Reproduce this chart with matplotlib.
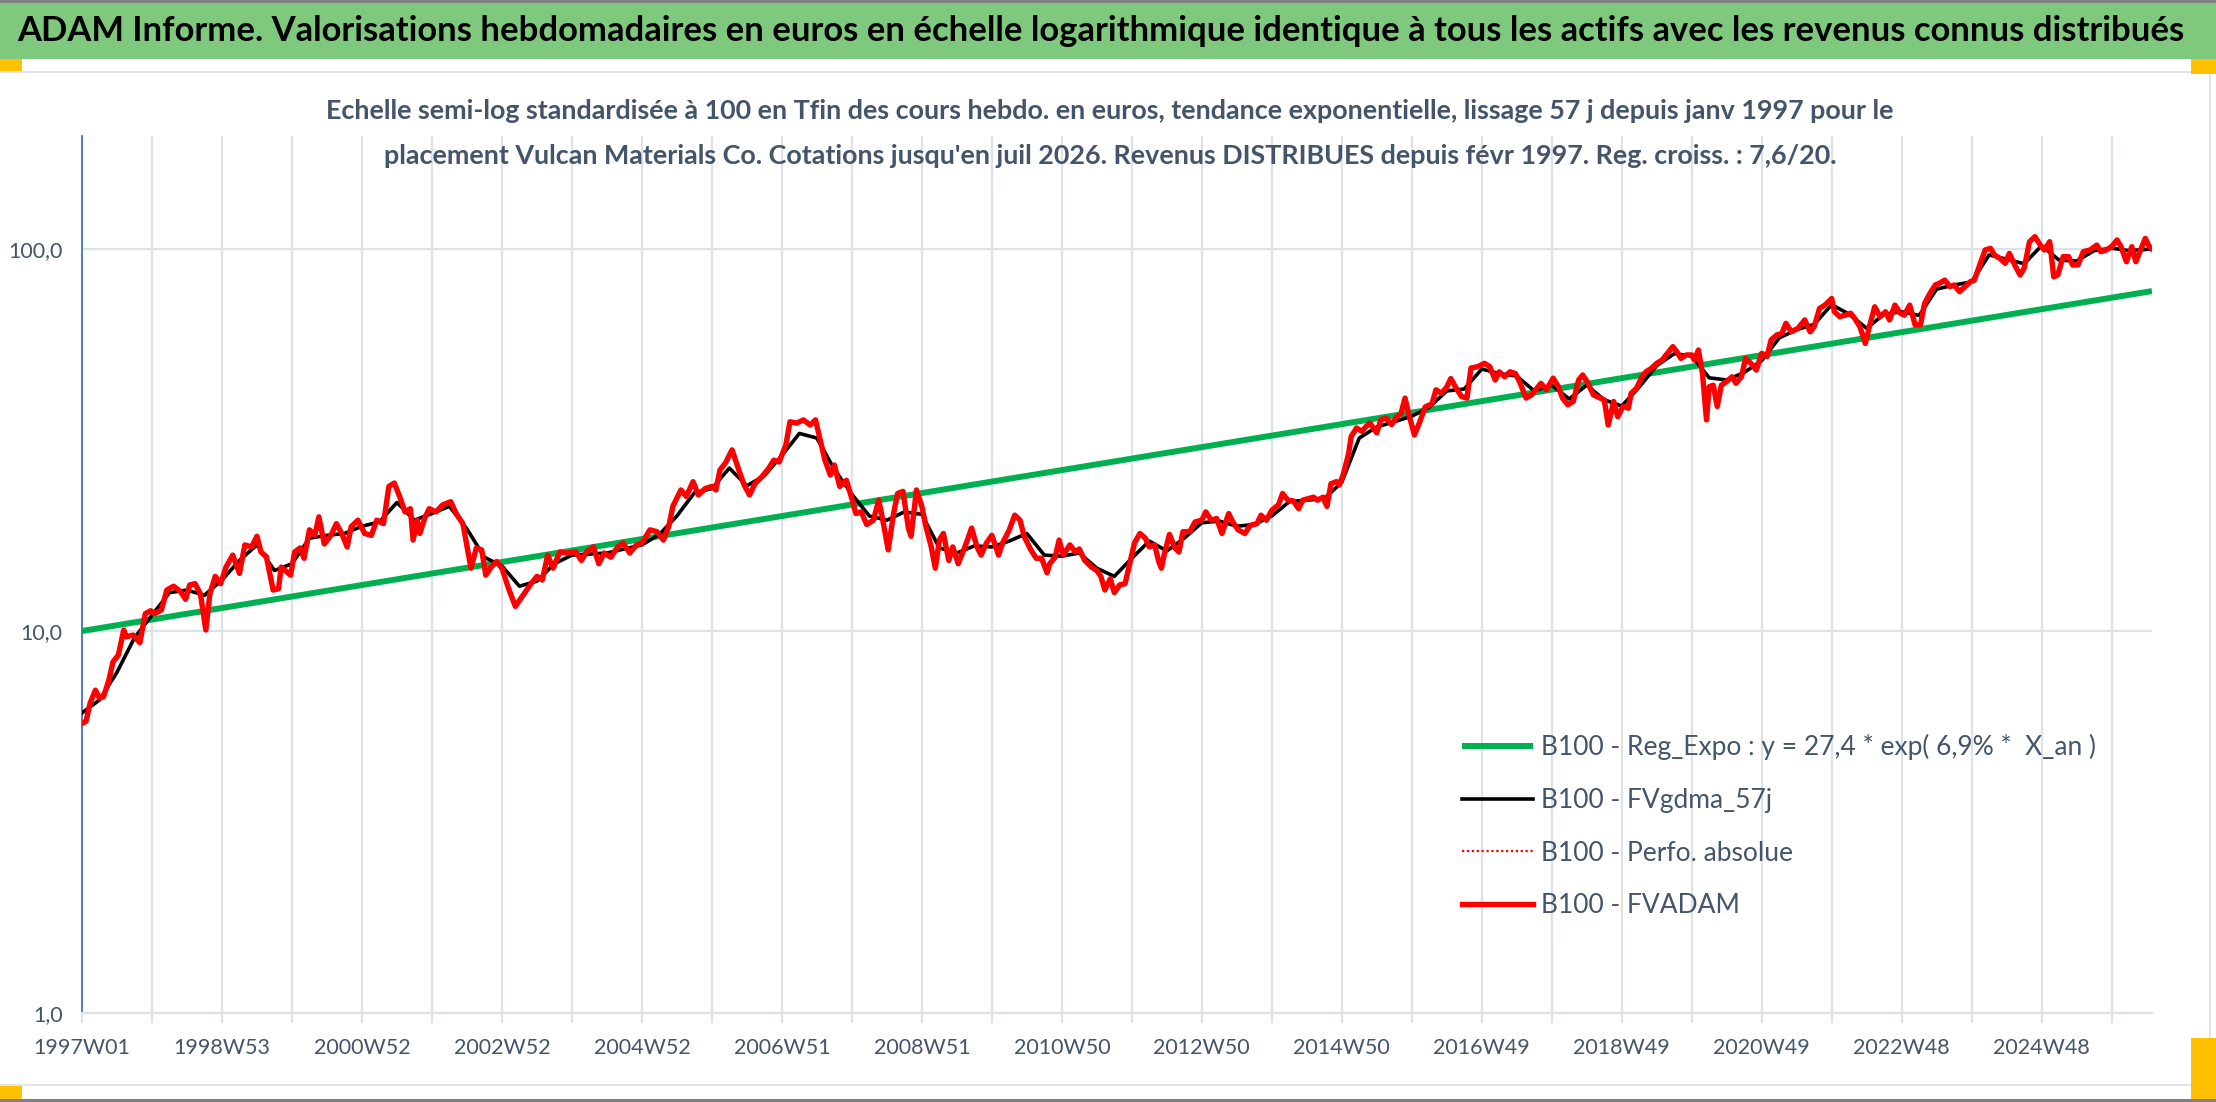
import matplotlib
matplotlib.use("Agg")
import matplotlib.pyplot as plt
from matplotlib import font_manager
from matplotlib.patches import Rectangle
from matplotlib.ticker import FixedLocator, NullLocator

# ---- data (x = week index since 1997W01) ----
tick_labels = ["1997W01", "1998W53", "2000W52", "2002W52", "2004W52", "2006W51",
               "2008W51", "2010W50", "2012W50", "2014W50", "2016W49", "2018W49",
               "2020W49", "2022W48", "2024W48"]

reg_weeks = [0, 1538]
reg_values = [10.0, 77.6]

smooth_weeks = [0, 13, 26, 39, 52, 65, 78, 91, 104, 117, 130, 143, 156, 169, 182, 195,
                208, 221, 234, 247, 260, 273, 286, 299, 312, 325, 338, 351, 364, 390,
                416, 429, 442, 455, 468, 481, 494, 507, 520, 533, 546, 559, 572, 585,
                598, 611, 624, 637, 650, 663, 676, 689, 702, 715, 728, 741, 754, 767,
                780, 793, 806, 819, 832, 845, 858, 871, 884, 897, 910, 923, 936, 949,
                962, 975, 988, 1001, 1014, 1027, 1040, 1053, 1066, 1079, 1092, 1105,
                1118, 1131, 1144, 1157, 1170, 1183, 1196, 1209, 1222, 1235, 1248, 1261,
                1274, 1287, 1300, 1313, 1326, 1339, 1352, 1365, 1378, 1391, 1404, 1417,
                1430, 1443, 1456, 1469, 1482, 1495, 1508, 1521, 1538]
smooth_values = [6.1, 6.6, 7.8, 9.6, 11.0, 12.6, 12.8, 12.4, 13.6, 15.3, 16.8, 14.4, 15.0,
                 17.5, 17.8, 18.0, 18.8, 19.3, 21.7, 19.5, 20.3, 21.2, 18.5, 15.6, 14.8,
                 13.1, 13.5, 15.0, 15.8, 16.0, 16.8, 17.9, 20.0, 23.0, 23.6, 26.7, 24.0,
                 25.5, 28.8, 32.9, 32.0, 26.5, 22.8, 20.0, 19.5, 20.5, 20.2, 16.5, 16.0,
                 16.7, 16.6, 17.2, 18.0, 15.8, 15.7, 16.0, 14.6, 13.9, 15.5, 17.2, 16.2,
                 17.5, 19.2, 19.4, 18.8, 19.0, 20.0, 21.8, 22.0, 22.2, 24.5, 32.0, 34.2,
                 35.3, 36.5, 38.5, 42.5, 43.0, 48.5, 47.2, 46.5, 42.5, 44.0, 40.5, 44.0,
                 40.3, 38.8, 43.5, 49.5, 53.2, 52.5, 46.0, 45.4, 47.5, 51.0, 58.5, 61.5,
                 63.5, 71.5, 67.5, 62.0, 67.5, 68.5, 67.0, 78.5, 80.5, 82.0, 96.5, 94.0,
                 91.5, 102.0, 93.5, 93.0, 99.0, 100.5, 99.0, 100.0]

adam_weeks = [0, 3, 6, 10, 13, 16, 20, 23, 27, 31, 33, 38, 43, 47, 51, 54, 59, 63, 68, 73,
              77, 80, 84, 88, 92, 95, 99, 103, 107, 112, 117, 121, 126, 130, 133, 137,
              142, 146, 148, 155, 158, 162, 165, 169, 173, 176, 180, 185, 189, 193, 197,
              200, 205, 210, 215, 219, 224, 228, 232, 236, 240, 244, 246, 249, 251, 255,
              258, 263, 268, 274, 278, 283, 287, 289, 293, 297, 300, 304, 308, 312, 317,
              322, 327, 333, 338, 342, 346, 350, 355, 360, 367, 371, 375, 380, 384, 388,
              393, 398, 402, 407, 412, 416, 422, 427, 432, 436, 439, 445, 449, 454, 458,
              463, 468, 471, 474, 478, 483, 488, 492, 496, 500, 505, 510, 514, 518, 523,
              526, 531, 536, 541, 545, 548, 552, 556, 559, 563, 568, 572, 575, 579, 583,
              588, 592, 595, 599, 603, 606, 610, 614, 616, 620, 624, 627, 631, 634, 637,
              640, 644, 647, 651, 656, 661, 665, 668, 672, 676, 681, 684, 689, 693, 697,
              700, 705, 709, 713, 717, 719, 723, 726, 729, 734, 738, 741, 745, 750, 754,
              757, 760, 764, 767, 771, 775, 779, 782, 786, 790, 793, 797, 800, 802, 804,
              808, 812, 815, 818, 823, 827, 832, 835, 839, 843, 847, 852, 855, 859, 864,
              868, 873, 876, 880, 884, 889, 892, 896, 900, 904, 907, 911, 915, 918, 922,
              925, 928, 932, 934, 937, 941, 943, 947, 951, 954, 957, 962, 965, 969, 973,
              977, 980, 983, 986, 990, 994, 998, 1003, 1006, 1010, 1014, 1017, 1021, 1025,
              1029, 1032, 1037, 1042, 1046, 1050, 1053, 1057, 1061, 1065, 1068, 1073,
              1077, 1081, 1084, 1088, 1093, 1097, 1100, 1104, 1108, 1112, 1115, 1119,
              1123, 1128, 1131, 1134, 1138, 1141, 1145, 1149, 1151, 1155, 1159, 1162,
              1166, 1170, 1174, 1177, 1182, 1185, 1188, 1192, 1196, 1198, 1201, 1204,
              1207, 1209, 1212, 1215, 1218, 1222, 1226, 1229, 1233, 1236, 1240, 1244,
              1248, 1252, 1255, 1259, 1263, 1266, 1270, 1275, 1280, 1284, 1287, 1291,
              1295, 1300, 1302, 1306, 1310, 1314, 1317, 1321, 1325, 1328, 1332, 1336,
              1340, 1343, 1347, 1351, 1354, 1358, 1362, 1366, 1369, 1373, 1377, 1380,
              1384, 1388, 1391, 1395, 1399, 1403, 1406, 1410, 1414, 1418, 1421, 1425,
              1429, 1432, 1436, 1440, 1443, 1447, 1451, 1455, 1458, 1462, 1465, 1468,
              1472, 1476, 1479, 1483, 1487, 1492, 1497, 1500, 1504, 1508, 1512, 1515,
              1519, 1523, 1526, 1529, 1533, 1536, 1538]
adam_values = [5.73, 5.8, 6.47, 7.0, 6.67, 6.73, 7.44, 8.3, 8.65, 10.05, 9.66, 9.76, 9.32,
               11.1, 11.3, 11.1, 11.35, 12.8, 13.1, 12.7, 12.1, 13.2, 13.3, 12.5, 10.06,
               12.5, 13.9, 13.3, 14.7, 15.8, 14.15, 16.8, 16.6, 17.7, 16.1, 15.65, 12.8,
               12.9, 14.7, 14.0, 16.1, 16.5, 15.5, 18.4, 17.8, 19.9, 16.9, 17.8, 19.1,
               18.0, 16.6, 18.75, 19.5, 18.0, 17.8, 19.5, 19.1, 23.9, 24.4, 22.5, 20.5,
               20.9, 17.3, 19.5, 18.0, 19.9,
               20.9, 20.5, 21.4, 21.8, 20.3, 19.1, 16.0, 14.6, 16.5, 16.3, 14.0, 14.7,
               15.2, 14.6, 12.9, 11.6, 12.3, 13.2, 13.9, 13.6, 15.8, 14.6, 16.1, 16.0,
               16.1, 15.3, 16.1, 16.6, 15.0, 16.0, 15.6, 16.6, 17.0, 16.0, 16.8, 17.0,
               18.4, 18.2, 17.3, 18.8, 21.2, 23.4, 22.5, 24.6, 22.7, 23.6, 23.9, 23.4,
               26.4, 27.5, 29.8, 26.4, 24.1, 22.7, 24.3, 25.3, 26.6, 28.0, 27.7, 30.7,
               35.3, 35.0, 35.7, 34.6, 35.7, 32.2, 28.0, 25.6, 27.2, 23.9, 24.8, 22.2,
               20.3, 20.5, 19.0, 19.5, 22.0, 19.5, 16.3, 20.3, 22.9, 23.2, 18.6, 17.7,
               23.4, 21.2, 18.8, 16.6, 14.6, 17.3, 18.0, 15.3, 16.6, 15.0, 16.6, 18.6,
               16.6, 15.8, 17.0, 17.8, 15.8, 17.0, 18.4, 20.1, 19.5, 17.7, 16.3, 15.5,
               15.5, 14.2, 15.0, 15.6, 17.3, 15.8, 16.8, 16.1, 16.4, 15.3, 14.7, 14.4,
               13.9, 12.8, 13.7, 12.6, 13.2, 13.3,
               15.3, 17.0, 18.0, 17.5, 16.6, 16.8, 15.2, 14.6, 15.8, 17.9, 16.5, 16.1,
               18.2, 18.2, 19.3, 19.5, 20.5, 19.5, 19.7, 18.0, 20.3, 19.3, 18.4, 18.0,
               18.9, 19.1, 20.1, 19.5, 20.7, 21.4, 22.9, 22.0, 21.9, 20.9, 22.0, 22.2,
               22.4, 22.0, 22.4, 21.2, 24.3, 24.6, 24.1, 25.6, 29.0, 32.3, 34.0, 33.3,
               34.3, 35.0, 33.0, 35.7, 36.1, 34.7, 36.4, 37.1, 40.7, 36.7, 32.6, 35.3,
               38.6, 39.3, 42.8, 41.9, 43.5, 45.8, 43.2, 41.1, 40.7, 48.8, 49.2, 50.2,
               49.2, 45.4, 47.7, 46.3, 47.7, 47.2, 45.0, 40.7, 41.5, 43.2, 44.5, 42.8,
               45.9, 43.6, 40.7, 39.1, 39.9, 45.4, 46.8, 44.5, 41.5, 40.7, 40.3, 34.6,
               39.9, 36.4, 38.7, 38.3, 41.9, 43.2, 46.3, 47.7, 48.7, 50.2, 51.2, 52.8,
               55.5, 53.8, 51.7, 52.8, 52.8, 51.2, 54.4, 47.2, 35.7, 43.6, 44.0, 38.7,
               44.0, 45.0, 46.3, 44.5, 46.3, 51.7, 50.2, 48.2, 53.3, 52.3, 57.8, 59.5,
               60.1, 63.9, 60.7, 62.0, 65.2, 60.7, 62.6, 69.9, 71.3, 74.2, 68.5, 66.5,
               67.1,
               67.9, 65.9, 62.6, 56.6, 62.6, 70.6, 66.5, 68.5, 65.2, 71.3, 67.9, 67.1,
               71.3, 63.3, 63.3, 72.0, 76.5, 80.5, 81.3, 82.9, 79.7, 80.5, 77.3, 79.7,
               82.1, 82.9, 90.8, 99.4, 100.4, 96.4, 94.5, 91.7, 97.4, 90.8, 85.5, 89.0,
               104.5, 107.7, 102.4, 99.4, 104.5, 84.6, 85.5, 95.5, 95.5, 90.8, 90.8, 98.4,
               99.4, 102.4, 98.4, 99.4, 101.4, 105.6, 101.4, 92.6, 101.4, 92.6, 98.4,
               106.6, 101.4, 100.0]

legend_labels = ["B100 - Reg_Expo : y = 27,4 * exp( 6,9% *  X_an )",
                 "B100 - FVgdma_57j",
                 "B100 - Perfo. absolue",
                 "B100 - FVADAM"]

header = ("ADAM Informe. Valorisations hebdomadaires en euros en échelle logarithmique "
          "identique à tous les actifs avec les revenus connus distribués")
sub1 = ("Echelle semi-log standardisée à 100 en Tfin des cours hebdo. en euros, "
        "tendance exponentielle, lissage 57 j depuis janv 1997 pour le")
sub2 = ("placement Vulcan Materials Co. Cotations jusqu'en juil 2026. "
        "Revenus DISTRIBUES depuis févr 1997. Reg. croiss. : 7,6/20.")

# ---- fonts ----
installed = {f.name for f in font_manager.fontManager.ttflist}
narrow = "Liberation Sans Narrow" if "Liberation Sans Narrow" in installed else "Lato"
plt.rcParams["font.family"] = [narrow, "DejaVu Sans"]

W, H = 2216, 1102
fig = plt.figure(figsize=(W / 100, H / 100), dpi=100)

def fx(px):
    return px / W

def fy(py):
    return 1 - py / H

def rect(x0, y0, x1, y1, color):
    fig.patches.append(Rectangle((fx(x0), fy(y1)), fx(x1 - x0), (y1 - y0) / H,
                                 transform=fig.transFigure, color=color, lw=0, zorder=0))

# frame pieces
grid_c = "#dde1e8"
rect(0, 0, W, 3, "#808080")
rect(0, 3, W, 59, "#7ec97e")
rect(0, 1099, W, H, "#808080")
rect(0, 71, W, 73, "#e3e3e3")
rect(0, 1084, 2191, 1086, "#e3e3e3")
rect(2209, 73, 2211, 1040, "#e3e3e3")
rect(0, 59, 22, 71, "#ffc000")
rect(2191, 59, W, 74, "#ffc000")
rect(2191, 1038, W, 1099, "#ffc000")
rect(0, 1086, 22, 1099, "#ffc000")

fig.text(fx(17), fy(31), header, fontsize=24.9, fontweight="bold", color="black",
         ha="left", va="center")
fig.text(fx(1110), fy(111), sub1, fontsize=19.4, fontweight="bold", color="#44546a",
         ha="center", va="center")
fig.text(fx(1110), fy(156), sub2, fontsize=19.4, fontweight="bold", color="#44546a",
         ha="center", va="center")

ax = fig.add_axes([fx(82), fy(1013), fx(2152 - 82), (1013 - 136) / H])
ax.plot(reg_weeks, reg_values, color="#00b050", lw=4.3, solid_capstyle="butt",
        label=legend_labels[0], zorder=3)
ax.plot(smooth_weeks, smooth_values, color="black", lw=2.6, label=legend_labels[1], zorder=4)
ax.plot(adam_weeks, adam_values, color="red", lw=1.6, ls=(0, (1, 1.2)),
        label=legend_labels[2], zorder=4)
ax.plot(adam_weeks, adam_values, color="#ff0000", lw=3.9, solid_joinstyle="round",
        label=legend_labels[3], zorder=5)

ax.set_yscale("log")
ax.set_ylim(1, 197.6)
ax.set_xlim(0, 1538)
ax.yaxis.set_major_locator(FixedLocator([1, 10, 100]))
ax.yaxis.set_minor_locator(NullLocator())
ax.set_yticklabels(["1,0", "10,0", "100,0"])
ax.set_xticks(range(0, 1538, 104), labels=tick_labels)
ax.set_xticks(range(52, 1538, 104), minor=True)

ax.grid(axis="x", which="both", color=grid_c, lw=1.6)
ax.grid(axis="y", which="major", color=grid_c, lw=1.6)
ax.set_axisbelow(True)
ax.tick_params(axis="x", which="both", length=7, width=1.6, color=grid_c, pad=11,
               labelsize=15.5, labelcolor="#44546a")
ax.tick_params(axis="y", length=0, pad=14, labelsize=15.5, labelcolor="#44546a")
for s in ["top", "right"]:
    ax.spines[s].set_visible(False)
ax.spines["left"].set_color("#4472c4")
ax.spines["left"].set_linewidth(1.3)
ax.spines["bottom"].set_color(grid_c)
ax.spines["bottom"].set_linewidth(1.6)

ax.legend(loc="upper left", bbox_to_anchor=(fx(1462), fy(734)), bbox_transform=fig.transFigure,
          frameon=False, fontsize=19, labelcolor="#44546a", handlelength=2.7,
          handletextpad=0.3, labelspacing=1.05, borderpad=0, borderaxespad=0)

fig.savefig("out.png", dpi=100)
